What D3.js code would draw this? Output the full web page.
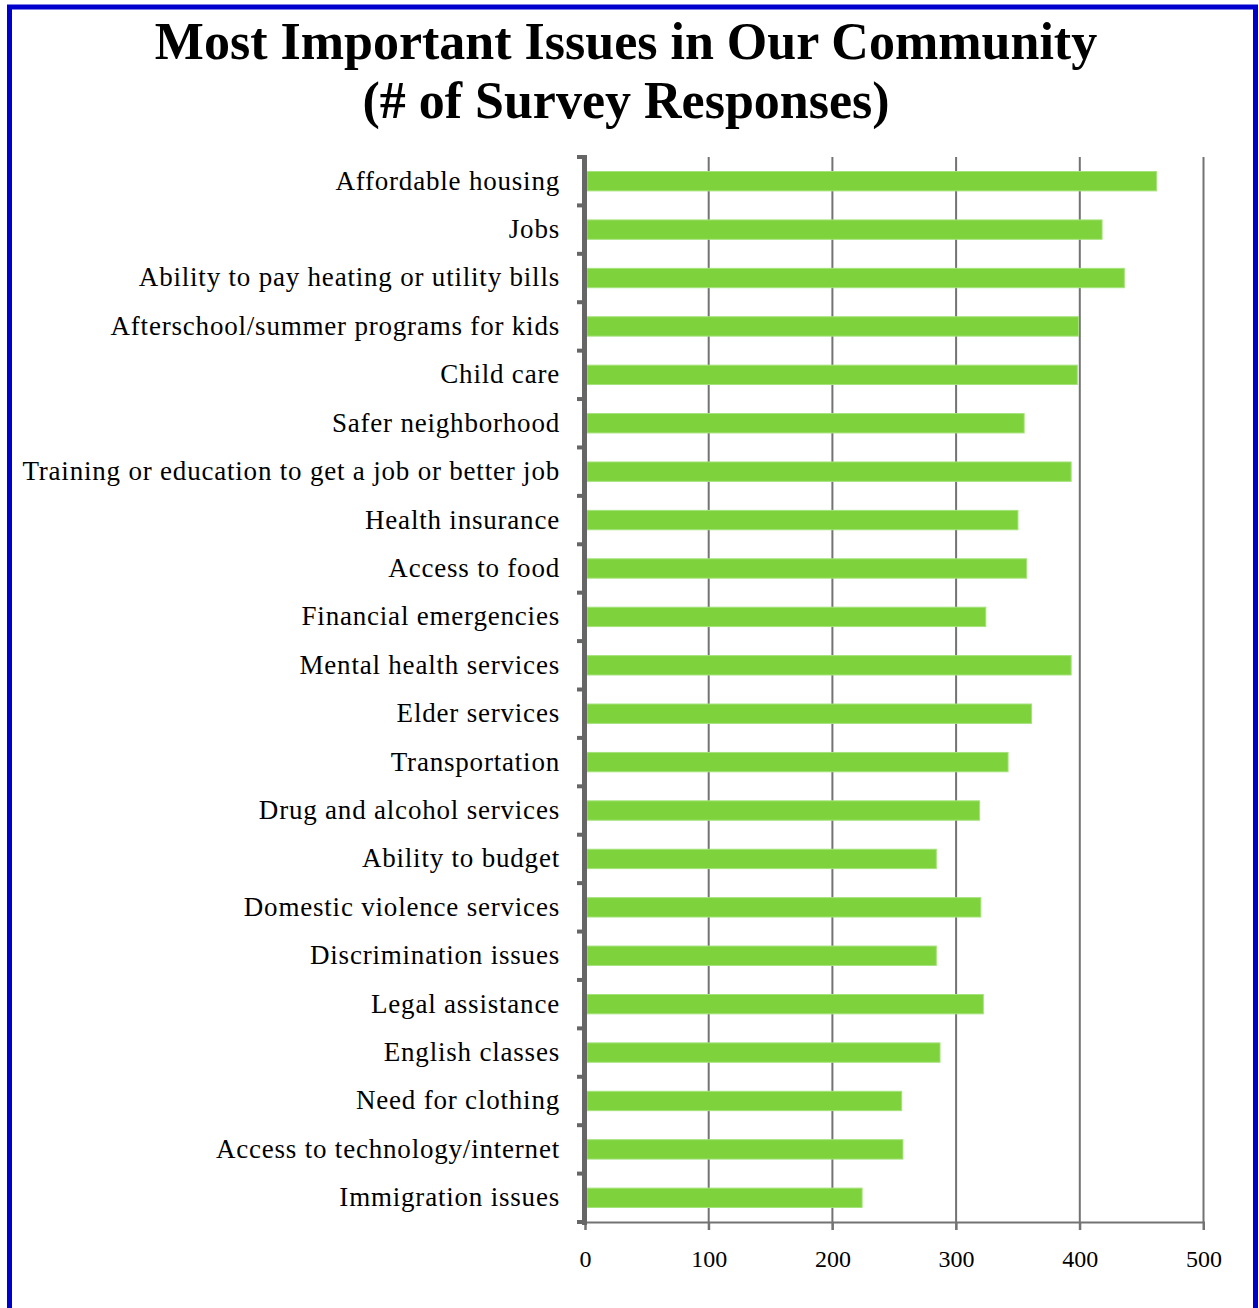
<!DOCTYPE html>
<html lang="en">
<meta charset="utf-8">
<script src="https://d3js.org/d3.v7.min.js"></script>
<style>
  body { margin: 0; background: #fff; }
  text { font-family: "Liberation Serif", "DejaVu Serif", serif; }
</style>
<body>
<svg id="chart" width="1259" height="1308"></svg>
<script>
// survey categories, top to bottom
var issues = ["Affordable housing", "Jobs", "Ability to pay heating or utility bills",
  "Afterschool/summer programs for kids", "Child care", "Safer neighborhood",
  "Training or education to get a job or better job", "Health insurance", "Access to food",
  "Financial emergencies", "Mental health services", "Elder services", "Transportation",
  "Drug and alcohol services", "Ability to budget", "Domestic violence services",
  "Discrimination issues", "Legal assistance", "English classes", "Need for clothing",
  "Access to technology/internet", "Immigration issues"];
var responses = [462, 418, 436, 399, 398, 355, 393, 350, 357, 324, 393, 361, 342,
  319, 284, 320, 284, 322, 287, 256, 257, 224];
var xTicks = [0, 100, 200, 300, 400, 500];
var titleLines = ["Most Important Issues in Our Community", "(# of Survey Responses)"];

var svg = d3.select("#chart");

// blue frame
svg.append("rect")
  .attr("x", 9.5).attr("y", 7).attr("width", 1246).attr("height", 1310)
  .attr("fill", "none").attr("stroke", "#0000cc").attr("stroke-width", 5);

svg.selectAll(".title").data(titleLines).enter().append("text")
  .attr("class", "title")
  .attr("x", 626).attr("y", function(d, i) { return 59 + i * 59; })
  .attr("text-anchor", "middle")
  .attr("font-size", 52).attr("font-weight", "bold")
  .text(function(d) { return d; });

var plotL = 585, plotR = 1203.5, plotT = 157, plotB = 1222;

var x = d3.scaleLinear().domain([0, 500]).range([plotL, plotR]);
var y = d3.scaleBand().domain(issues).range([plotT, plotB]).paddingInner(0.6).paddingOuter(0.3);
var yb = d3.scaleBand().domain(issues).range([plotT, plotB]);

// vertical grid
svg.selectAll(".grid").data(xTicks.slice(1)).enter().append("line")
  .attr("x1", function(d) { return x(d); }).attr("x2", function(d) { return x(d); })
  .attr("y1", plotT).attr("y2", plotB + 8)
  .attr("stroke", "#737373").attr("stroke-width", 2);

// bottom axis
var xAxis = d3.axisBottom(x).tickValues(xTicks).tickSize(8).tickPadding(20);
var gx = svg.append("g").attr("transform", "translate(0," + plotB + ")").call(xAxis);
gx.select(".domain").attr("stroke", "#737373").attr("stroke-width", 2);
gx.selectAll(".tick line").attr("stroke", "#737373").attr("stroke-width", 2);
gx.selectAll(".tick text").attr("font-size", 24).attr("fill", "#000")
  .attr("font-family", "Liberation Serif");

// bars
svg.selectAll(".bar").data(issues).enter().append("rect")
  .attr("class", "bar")
  .attr("x", x(0) + 2)
  .attr("y", function(d) { return y(d); })
  .attr("width", function(d, i) { return x(responses[i]) - x(0) - 2; })
  .attr("height", y.bandwidth())
  .attr("fill", "#7ed23c").attr("stroke", "#a4e27a").attr("stroke-width", 1);

// left axis with category ticks at band edges
var edges = issues.map(function(d) { return yb(d); }).concat([plotB]);
svg.selectAll(".ytick").data(edges).enter().append("line")
  .attr("x1", plotL - 8).attr("x2", plotL)
  .attr("y1", function(d) { return d; }).attr("y2", function(d) { return d; })
  .attr("stroke", "#666").attr("stroke-width", 4);
svg.append("line")
  .attr("x1", plotL - 0.5).attr("x2", plotL - 0.5)
  .attr("y1", plotT - 2).attr("y2", plotB + 3)
  .attr("stroke", "#666").attr("stroke-width", 5);

svg.selectAll(".label").data(issues).enter().append("text")
  .attr("class", "label")
  .attr("x", 560)
  .attr("y", function(d) { return yb(d) + yb.bandwidth() / 2 - 1; })
  .attr("dy", "0.35em")
  .attr("text-anchor", "end")
  .attr("font-size", 27)
  .attr("letter-spacing", 0.8)
  .text(function(d) { return d; });
</script>
</body>
</html>
